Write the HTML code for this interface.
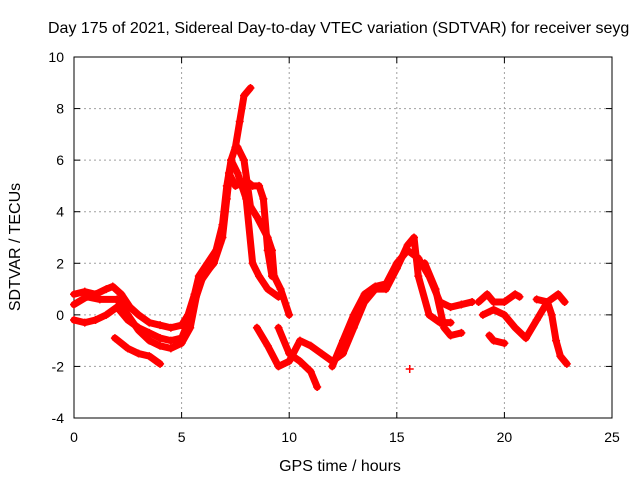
<!DOCTYPE html>
<html><head><meta charset="utf-8"><style>
html,body{margin:0;padding:0;background:#fff;}
svg{display:block;font-family:"Liberation Sans",sans-serif;}
</style></head><body>
<svg id="chart" width="640" height="480" viewBox="0 0 640 480">
<text x="48" y="33" font-size="16" fill="#000">Day 175 of 2021, Sidereal Day-to-day VTEC variation (SDTVAR) for receiver seyg</text>
<g id="grid"></g>
<g id="axes"></g>
<g id="series"></g>
<text x="340" y="471" font-size="16" text-anchor="middle">GPS time / hours</text>
<text transform="translate(20,247) rotate(-90)" font-size="16" text-anchor="middle">SDTVAR / TECUs</text>
</svg>
<script>
const xTicks=[0,5,10,15,20,25];
const yTicks=[-4,-2,0,2,4,6,8,10];
const trackA=[[0,0.8],[0.5,0.9],[1,0.8],[1.5,1.0],[1.8,1.1],[2.2,0.8],[2.6,0.3],[3,0],[3.5,-0.3],[4,-0.4],[4.5,-0.5],[5,-0.4],[5.3,0],[5.6,0.8],[5.8,1.5],[6.2,2],[6.6,2.5],[6.9,3.5],[7.1,5],[7.3,6],[7.5,6.5],[7.7,7.5],[7.9,8.5],[8.2,8.8]];
const trackB=[[0,-0.2],[0.5,-0.3],[1,-0.2],[1.5,0],[2,0.3],[2.5,-0.2],[3,-0.5],[3.5,-0.7],[4,-0.9],[4.5,-1],[5,-0.9],[5.3,-0.3],[5.6,0.5],[6,1.5],[6.5,2],[6.9,3],[7.1,4.5],[7.3,6],[7.6,5.5],[8,4.5],[8.3,2],[8.6,1.5],[9,1],[9.5,0.7]];
const trackC=[[1.9,-0.9],[2.5,-1.3],[3,-1.5],[3.5,-1.6],[4,-1.9]];
const trackD=[[0,0.4],[0.6,0.7],[1.2,0.6],[2,0.6],[2.5,0],[3,-0.6],[3.5,-1],[4,-1.2],[4.5,-1.3],[5,-1.1],[5.4,-0.5],[5.8,1.2],[6.3,1.8],[6.8,2.8],[7,4],[7.2,5.5],[7.5,5],[8,5.2],[8.3,5],[8.6,5],[8.8,4.5],[9,2.5],[9.2,1.5]];
const trackE=[[7.6,6.5],[7.9,6],[8.2,4.2],[8.5,3.8],[9,3],[9.2,2.5],[9.3,1.5],[9.6,1],[10,0]];
const trackF=[[9.5,-0.5],[10,-1.5],[10.5,-1.8],[11,-2.2],[11.3,-2.8]];
const trackG=[[8.5,-0.5],[9,-1.2],[9.5,-2],[10,-1.8],[10.5,-1],[11,-1.2],[11.5,-1.5],[12,-1.8],[12.5,-1.5],[13,-0.5],[13.5,0.5],[14,1],[14.5,1],[15,1.8],[15.5,2.7],[15.8,3],[16,1.5],[16.5,0],[17,-0.3],[17.5,-0.3]];
const trackH=[[12,-2],[12.5,-1],[13,0],[13.5,0.8],[14,1.1],[14.5,1.2],[15,2],[15.5,2.5],[16,2.2],[16.5,1.5],[17,0.5],[17.5,0.3],[18,0.4],[18.5,0.5]];
const trackI=[[16.3,2],[16.8,1],[17.2,-0.5],[17.5,-0.8],[18,-0.7]];
const trackJ=[[18.8,0.5],[19.2,0.8],[19.5,0.5],[20,0.5],[20.5,0.8],[20.7,0.7]];
const trackK=[[19,0],[19.5,0.2],[20,0],[20.5,-0.5],[21,-0.9],[21.5,-0.2],[22,0.5],[22.5,0.8],[22.8,0.5]];
const trackL=[[19.3,-0.8],[19.5,-1],[20,-1.1]];
const trackM=[[21.5,0.6],[22,0.5],[22.2,0],[22.4,-1],[22.6,-1.6],[22.9,-1.9]];
const trackN=[[15.6,-2.1]];
const tracks=[trackA,trackB,trackC,trackD,trackE,trackF,trackG,trackH,trackI,trackJ,trackK,trackL,trackM,trackN];

const X0=74,X1=612,Y0=418,Y1=57,xmin=0,xmax=25,ymin=-4,ymax=10;
const sx=v=>X0+(v-xmin)/(xmax-xmin)*(X1-X0);
const sy=v=>Y0-(v-ymin)/(ymax-ymin)*(Y0-Y1);
const NS='http://www.w3.org/2000/svg';
function mk(tag,attrs,parent){const e=document.createElementNS(NS,tag);for(const k in attrs)e.setAttribute(k,attrs[k]);parent.appendChild(e);return e;}
const grid=document.getElementById('grid'),axes=document.getElementById('axes'),ser=document.getElementById('series');
xTicks.forEach(t=>{
  const x=sx(t);
  if(t>xmin&&t<xmax){const g=mk('line',{x1:x,x2:x,y1:Y1,y2:Y0,stroke:'#a0a0a0','stroke-dasharray':'2,3'},grid);
  
  }
  mk('line',{x1:x,x2:x,y1:Y0,y2:Y0-6,stroke:'#000'},axes);
  mk('line',{x1:x,x2:x,y1:Y1,y2:Y1+6,stroke:'#000'},axes);
  const l=mk('text',{x:x,y:Y0+24,'font-size':14,'text-anchor':'middle'},axes);l.textContent=t;
  
  
});
yTicks.forEach(t=>{
  const y=sy(t);
  if(t>ymin&&t<ymax){const g=mk('line',{x1:X0,x2:X1,y1:y,y2:y,stroke:'#a0a0a0','stroke-dasharray':'2,3'},grid);
  
  }
  mk('line',{x1:X0,x2:X0+6,y1:y,y2:y,stroke:'#000'},axes);
  mk('line',{x1:X1,x2:X1-6,y1:y,y2:y,stroke:'#000'},axes);
  const l=mk('text',{x:X0-10,y:y+5,'font-size':14,'text-anchor':'end'},axes);l.textContent=t;
  
  
});
const frame=mk('rect',{x:X0,y:Y1,width:X1-X0,height:Y0-Y1,fill:'none',stroke:'#000'},axes);


tracks.forEach(tr=>{
  const g=mk('g',{},ser);
  
  
  if(tr.length>1){mk('polyline',{points:tr.map(p=>sx(p[0])+','+sy(p[1])).join(' '),fill:'none',stroke:'#ff0000','stroke-width':7,'stroke-linejoin':'round','stroke-linecap':'round'},g);}
  tr.forEach(p=>{
    const x=sx(p[0]),y=sy(p[1]);
    const m=mk('path',{d:`M${x-4},${y}H${x+4}M${x},${y-4}V${y+4}`,stroke:'#ff0000','stroke-width':1.5},g);
    
    
  });
});
</script>
</body></html>
